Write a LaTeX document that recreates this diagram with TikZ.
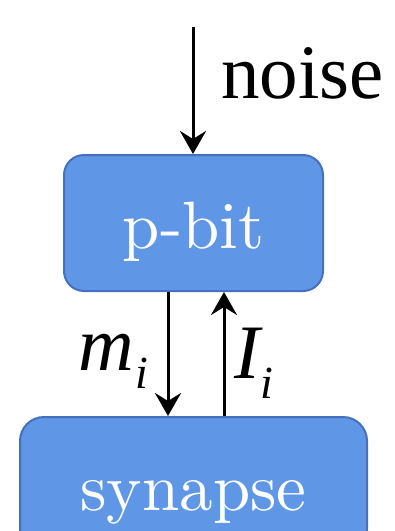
\documentclass[tikz,border=0pt]{standalone}
\usepackage{fontspec}
\newfontfamily\timesfont{Liberation Serif}
\newfontfamily\boxfont{lmroman10-regular.otf}
\usetikzlibrary{arrows.meta}
\definecolor{boxfill}{RGB}{96,150,230}
\definecolor{boxline}{RGB}{70,112,190}
\tikzset{
  block/.style={draw=boxline, line width=2pt, fill=boxfill, rounded corners=20pt,
    inner sep=0pt, text=white, text height=50pt, text depth=0pt,
    font=\boxfont\fontsize{67}{67}\selectfont},
  flow/.style={line width=3pt, -{Stealth[length=23pt,width=26pt,inset=8pt]}},
  lbl/.style={inner sep=0pt, anchor=base west, font=\timesfont\fontsize{77}{77}\selectfont}
}
\begin{document}
\begin{tikzpicture}[x=1pt,y=-1pt]
\useasboundingbox (0,0) rectangle (395,531);
\node[block, minimum width=259pt, minimum height=136pt] (pbit) at (193.5,223) {p-bit};
\node[block, minimum width=347pt, minimum height=136pt, rounded corners=24pt] (syn) at (193.5,485) {synapse};
\coordinate (nstart) at (193,27);
\draw[flow] (nstart) -- (nstart |- pbit.north);
\node[lbl] (noise) at (221,98) {noise};
\draw[flow] ([xshift=-25.5pt]pbit.south) -- ([xshift=-25.5pt]syn.north);
\draw[flow] ([xshift=30.5pt]syn.north) -- ([xshift=30.5pt]pbit.south);
\node[lbl] (mi) at (78,370) {\itshape m\kern2pt\raisebox{-18pt}{\fontsize{46}{46}\selectfont i}};
\node[lbl] (Ii) at (234,378) {\itshape I\kern1pt\raisebox{-20pt}{\fontsize{46}{46}\selectfont i}};
\end{tikzpicture}
\end{document}
